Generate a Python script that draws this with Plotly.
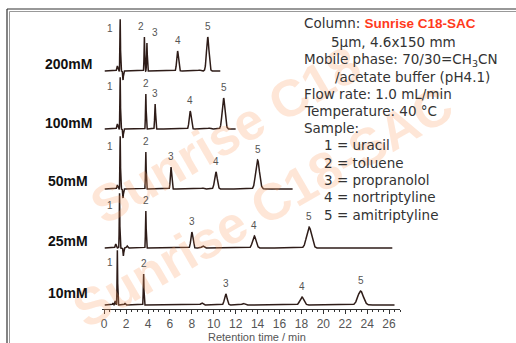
import numpy as np
import plotly.graph_objects as go

# ---------------- data ----------------
RUNS = ["200mM", "100mM", "50mM", "25mM", "10mM"]
RUN_END = [10.6, 12.0, 17.2, 26.3, 26.5]          # min, end of recorded trace

# main peaks 1..5 : retention time (min), height (signal units), sigma (min)
PEAK_T = [
    [1.46, 3.67, 3.90, 6.70, 9.45],
    [1.46, 3.80, 4.65, 7.85, 10.90],
    [1.46, 3.80, 6.10, 10.20, 14.00],
    [1.40, 3.80, 8.00, 13.70, 18.70],
    [1.20, 3.60, 11.10, 18.05, 23.40],
]
PEAK_H = [
    [52, 34, 28, 20, 34],
    [52, 35, 25, 18, 31],
    [53, 37, 22, 17, 29],
    [55, 37, 16, 12, 21],
    [55, 31, 11, 8, 14],
]
PEAK_W = [
    [0.025, 0.030, 0.030, 0.080, 0.110],
    [0.025, 0.030, 0.040, 0.090, 0.130],
    [0.025, 0.030, 0.060, 0.120, 0.170],
    [0.025, 0.030, 0.090, 0.160, 0.220],
    [0.025, 0.030, 0.120, 0.180, 0.250],
]
# minor system peaks / baseline disturbances: time, height, sigma
MINOR_T = [
    [1.20, 1.72, 8.70],
    [1.20, 1.72, 9.60],
    [1.20, 1.72, 9.00],
    [1.05, 1.75, 2.10, 9.00],
    [0.80, 1.00, 1.90, 8.90, 12.70],
]
MINOR_H = [
    [5, -9, 1],
    [5, -9, 1],
    [4, -9, 1],
    [4, -8, 2, 2],
    [2, 4, 2, 2, 1.5],
]
MINOR_W = [
    [0.05, 0.03, 0.10],
    [0.05, 0.03, 0.10],
    [0.05, 0.03, 0.10],
    [0.05, 0.03, 0.05, 0.10],
    [0.04, 0.04, 0.04, 0.10, 0.12],
]
PEAK_LABELS = ["1", "2", "3", "4", "5"]
X_TICKS = list(range(0, 27, 2))
X_TITLE = "Retention time / min"

INFO_LINES = [
    ("Column: <b><span style='color:#ff3a1c;font-family:Liberation Sans'>Sunrise C18-SAC</span></b>", 302, 23),
    ("5µm, 4.6x150 mm", 329, 42),
    ("Mobile phase: 70/30=CH<sub>3</sub>CN", 302, 60),
    ("/acetate buffer (pH4.1)", 333, 77),
    ("Flow rate: 1.0 mL/min", 302, 94),
    ("Temperature: 40 °C", 302, 111),
    ("Sample:", 302, 128),
    ("1 = uracil", 322, 145),
    ("2 = toluene", 322, 163),
    ("3 = propranolol", 322, 180),
    ("4 = nortriptyline", 322, 197),
    ("5 = amitriptyline", 322, 215),
]
WATERMARKS = ["Sunrise C18", "Sunrise C18-SAC"]

# ---------------- layout geometry ----------------
W, H = 516, 343
L, R, T, B = 102, 400, 10, 309
BASE = [238, 180, 120, 61, 4]        # vertical offset of each trace
ROW_LABEL_Y = [64, 123, 181, 241, 293]
LINE_COLOR = "#2e1c18"


def px(xp):
    return (xp - L) / (R - L)


def py(yp):
    return (B - yp) / (B - T)


fig = go.Figure()
annotations = []

# watermark (drawn first)
for wm, (sx, sy) in zip(WATERMARKS, [(78, 238), (60, 342)]):
    annotations.append(dict(x=px(sx), y=py(sy), xref="paper", yref="paper",
                            xanchor="left", yanchor="bottom",
                            text="<b>" + wm + "</b>", showarrow=False, textangle=-30,
                            font=dict(size=52, color="rgba(250,160,100,0.26)",
                                      family="Liberation Sans, Arial")))

for i, run in enumerate(RUNS):
    t = np.arange(0.05, RUN_END[i], 0.004)
    y = np.zeros_like(t)
    for tt, hh, ww in zip(PEAK_T[i], PEAK_H[i], PEAK_W[i]):
        y += hh * np.exp(-0.5 * ((t - tt) / ww) ** 2)
    for tt, hh, ww in zip(MINOR_T[i], MINOR_H[i], MINOR_W[i]):
        y += hh * np.exp(-0.5 * ((t - tt) / ww) ** 2)
    fig.add_trace(go.Scatter(x=t, y=y + BASE[i], mode="lines",
                             line=dict(color=LINE_COLOR, width=1.5),
                             showlegend=False, hoverinfo="skip"))
    # peak labels
    for k, lab in enumerate(PEAK_LABELS):
        if k == 0:
            annotations.append(dict(x=0.55, y=BASE[i] + 43, xref="x", yref="y",
                                    xanchor="center", yanchor="middle",
                                    text=lab, showarrow=False,
                                    font=dict(size=10, color="#555")))
        else:
            xs = 0
            if i == 0 and k == 1:
                xs = -3
            if i == 0 and k == 2:
                xs = 8
            annotations.append(dict(x=PEAK_T[i][k], y=BASE[i] + PEAK_H[i][k],
                                    xref="x", yref="y", text=lab, showarrow=False,
                                    xanchor="center", yanchor="middle",
                                    yshift=11, xshift=xs,
                                    font=dict(size=10, color="#555")))
    annotations.append(dict(x=px(68), y=py(ROW_LABEL_Y[i]), xref="paper", yref="paper",
                            xanchor="center", yanchor="middle",
                            text="<b>" + run + "</b>", showarrow=False,
                            font=dict(size=14, color="#111")))

for txt, xp, yp in INFO_LINES:
    annotations.append(dict(x=px(xp), y=py(yp), xref="paper", yref="paper",
                            text=txt, showarrow=False, xanchor="left", yanchor="middle",
                            font=dict(size=13.5, color="#333",
                                      family="DejaVu Sans, sans-serif")))

# axis title
annotations.append(dict(x=px(257), y=py(337), xref="paper", yref="paper",
                        xanchor="center", yanchor="middle", text=X_TITLE, showarrow=False,
                        font=dict(size=11, color="#555")))

shapes = [
    dict(type="line", xref="paper", yref="paper", x0=px(7), x1=px(516), y0=py(9), y1=py(9),
         line=dict(color="#333", width=1.2)),
    dict(type="line", xref="paper", yref="paper", x0=px(9.5), x1=px(516), y0=py(11.5), y1=py(11.5),
         line=dict(color="#999", width=1)),
    dict(type="line", xref="paper", yref="paper", x0=px(7), x1=px(7), y0=py(9), y1=py(343),
         line=dict(color="#333", width=1.2)),
    dict(type="line", xref="paper", yref="paper", x0=px(9.5), x1=px(9.5), y0=py(11.5), y1=py(343),
         line=dict(color="#999", width=1)),
]

fig.update_layout(
    width=W, height=H,
    margin=dict(l=L, r=W - R, t=T, b=H - B, autoexpand=False),
    paper_bgcolor="white", plot_bgcolor="rgba(0,0,0,0)",
    font=dict(family="Liberation Sans, Arial, sans-serif"),
    annotations=annotations, shapes=shapes,
    xaxis=dict(range=[-0.2, 27], tickvals=X_TICKS, ticktext=[str(v) for v in X_TICKS],
               showline=True, linecolor="#333", linewidth=1, automargin=False,
               ticks="outside", ticklen=4, tickwidth=1, tickcolor="#333",
               minor=dict(dtick=0.5, tick0=0, ticks="outside", ticklen=2, tickcolor="#333"),
               showgrid=False, zeroline=False,
               tickfont=dict(size=12, color="#555")),
    yaxis=dict(range=[0, B - T], visible=False, fixedrange=True, automargin=False),
)

fig.write_html("out.html", config={"displayModeBar": False},
               post_script="document.body.style.margin='0';")
